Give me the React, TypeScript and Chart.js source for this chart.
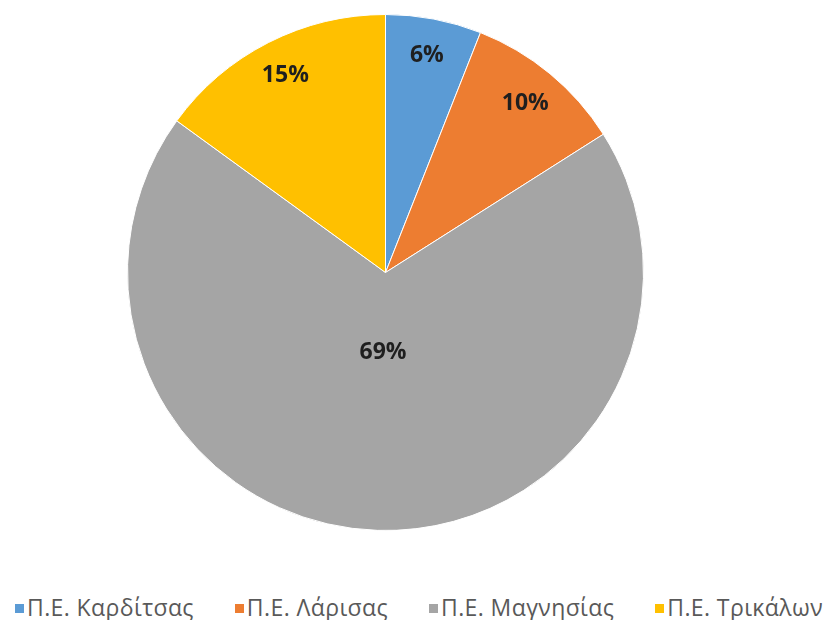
import React, { useEffect, useRef } from "react";
import { Chart, registerables } from "chart.js";

Chart.register(...registerables);

const categories = ["Π.Ε. Καρδίτσας", "Π.Ε. Λάρισας", "Π.Ε. Μαγνησίας", "Π.Ε. Τρικάλων"];
const shares = [6, 10, 69, 15];
const colors = ["#5B9BD5", "#ED7D31", "#A5A5A5", "#FFC000"];
const labelTexts = ["6%", "10%", "69%", "15%"];

const labelPlugin = {
  id: "pctLabels",
  afterDatasetsDraw(chart: any) {
    const meta = chart.getDatasetMeta(0);
    const ctx = chart.ctx;
    const radialFactor = [0.855, 0.85, 0.31, 0.855];
    ctx.save();
    ctx.font = "bold 23px 'Open Sans', sans-serif";
    ctx.fillStyle = "#1f1f1f";
    ctx.textAlign = "center";
    ctx.textBaseline = "middle";
    meta.data.forEach((arc: any, i: number) => {
      const { x, y, startAngle, endAngle, outerRadius } = arc.getProps(
        ["x", "y", "startAngle", "endAngle", "outerRadius"],
        true
      );
      const mid = (startAngle + endAngle) / 2;
      const r = outerRadius * radialFactor[i];
      ctx.fillText(labelTexts[i], x + Math.cos(mid) * r, y + Math.sin(mid) * r);
    });
    ctx.restore();
  },
};

export default function App() {
  const canvasRef = useRef<HTMLCanvasElement | null>(null);

  useEffect(() => {
    if (!canvasRef.current) return;
    const chart = new Chart(canvasRef.current, {
      type: "pie",
      data: {
        labels: categories,
        datasets: [
          {
            data: shares,
            backgroundColor: colors,
            borderColor: "#ffffff",
            borderWidth: 1,
          },
        ],
      },
      options: {
        animation: false,
        responsive: true,
        maintainAspectRatio: false,
        layout: { padding: { top: 14, bottom: 14, left: 0, right: 0 } },
        plugins: {
          legend: { display: false },
          tooltip: { enabled: false },
        },
      },
      plugins: [labelPlugin],
    });
    return () => chart.destroy();
  }, []);

  return (
    <div
      style={{
        position: "absolute",
        left: 0,
        top: 0,
        width: 827,
        height: 620,
        background: "#ffffff",
        overflow: "hidden",
      }}
    >
      <div style={{ position: "absolute", left: 0, top: 0, width: 771, height: 545 }}>
        <canvas ref={canvasRef} />
      </div>
      <div
        style={{
          position: "absolute",
          left: 15,
          top: 591,
          display: "flex",
          gap: 41,
          fontFamily: "'Open Sans', sans-serif",
          fontSize: 23,
          letterSpacing: 0.4,
          color: "#595959",
          whiteSpace: "nowrap",
        }}
      >
        {categories.map((c, i) => (
          <div key={c} style={{ display: "flex", alignItems: "center" }}>
            <span
              style={{
                display: "inline-block",
                width: 9,
                height: 9,
                background: colors[i],
                marginRight: 3,
                marginTop: 3,
              }}
            />
            <span>{c}</span>
          </div>
        ))}
      </div>
    </div>
  );
}
